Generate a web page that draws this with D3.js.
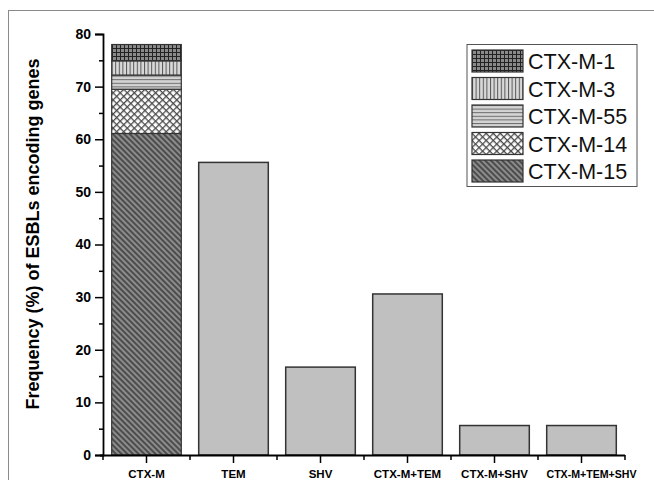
<!DOCTYPE html>
<html><head><meta charset="utf-8">
<script src="https://cdn.jsdelivr.net/npm/d3@7/dist/d3.min.js"></script>
<style>body{margin:0;background:#fff}svg{display:block}</style>
</head><body>
<script>
const categories = ["CTX-M","TEM","SHV","CTX-M+TEM","CTX-M+SHV","CTX-M+TEM+SHV"];
const totals = [78.0, 55.6, 16.7, 30.6, 5.6, 5.6];
const subtypes = ["CTX-M-15","CTX-M-14","CTX-M-55","CTX-M-3","CTX-M-1"];
const subtypeValues = [61.1, 8.4, 2.7, 2.7, 3.1];
const yTicks = [0,10,20,30,40,50,60,70,80];
const yMinorTicks = [5,15,25,35,45,55,65,75];
const legendOrder = ["CTX-M-1","CTX-M-3","CTX-M-55","CTX-M-14","CTX-M-15"];

const W=654,H=480;
const FONT="Liberation Sans, Arial, sans-serif";
const svg=d3.select("body").append("svg").attr("width",W).attr("height",H);
const defs=svg.append("defs");
function pat(id,size,bg,rot){
  const p=defs.append("pattern").attr("id",id).attr("patternUnits","userSpaceOnUse")
    .attr("width",size).attr("height",size);
  if(rot) p.attr("patternTransform","rotate("+rot+")");
  p.append("rect").attr("width",size).attr("height",size).attr("fill",bg);
  return p;
}
let p=pat("p15",4,"#8c8c8c",-45);
p.append("line").attr("x1",1).attr("y1",0).attr("x2",1).attr("y2",4).attr("stroke","#2a2a2a").attr("stroke-width",1.3);
p=pat("p14",5,"#ffffff",45);
p.append("line").attr("x1",0).attr("y1",0.5).attr("x2",5).attr("y2",0.5).attr("stroke","#4a4a4a").attr("stroke-width",1.6);
p.append("line").attr("x1",0.5).attr("y1",0).attr("x2",0.5).attr("y2",5).attr("stroke","#4a4a4a").attr("stroke-width",1.6);
p=pat("p55",3.6,"#d4d4d4",0);
p.append("line").attr("x1",0).attr("y1",0.5).attr("x2",3.6).attr("y2",0.5).attr("stroke","#6a6a6a").attr("stroke-width",1);
p=pat("p3",3.6,"#d8d8d8",0);
p.append("line").attr("x1",0.5).attr("y1",0).attr("x2",0.5).attr("y2",3.6).attr("stroke","#555").attr("stroke-width",1);
p=pat("p1",4,"#8a8a8a",0);
p.append("line").attr("x1",0).attr("y1",0.5).attr("x2",4).attr("y2",0.5).attr("stroke","#222").attr("stroke-width",1);
p.append("line").attr("x1",0.5).attr("y1",0).attr("x2",0.5).attr("y2",4).attr("stroke","#222").attr("stroke-width",1);
const fillOf={"CTX-M-15":"url(#p15)","CTX-M-14":"url(#p14)","CTX-M-55":"url(#p55)","CTX-M-3":"url(#p3)","CTX-M-1":"url(#p1)"};

svg.append("rect").attr("x",8.5).attr("y",10.5).attr("width",700).attr("height",500)
  .attr("fill","none").attr("stroke","#8a8a8a").attr("stroke-width",1);

const x=d3.scaleBand().domain(categories).range([103,625]).paddingInner(0.2).paddingOuter(0.1);
const y=d3.scaleLinear().domain([0,80]).range([455,34]);

svg.append("g").selectAll("rect").data(categories.slice(1)).join("rect")
  .attr("x",d=>x(d)).attr("width",x.bandwidth())
  .attr("y",d=>y(totals[categories.indexOf(d)]))
  .attr("height",d=>y(0)-y(totals[categories.indexOf(d)]))
  .attr("fill","#c0c0c0").attr("stroke","#333").attr("stroke-width",1.5);

let cum=0;
const segs=subtypes.map((s,i)=>{const o={name:s,y0:cum,y1:cum+subtypeValues[i]};cum+=subtypeValues[i];return o;});
svg.append("g").selectAll("rect").data(segs).join("rect")
  .attr("x",x(categories[0])).attr("width",x.bandwidth())
  .attr("y",d=>y(d.y1)).attr("height",d=>y(d.y0)-y(d.y1))
  .attr("fill",d=>fillOf[d.name]).attr("stroke","#333").attr("stroke-width",1.2);

const ya=svg.append("g").attr("transform","translate(103,0)")
  .call(d3.axisLeft(y).tickValues(yTicks).tickSize(8).tickPadding(4).tickFormat(d3.format("d")));
svg.append("g").attr("transform","translate(103,0)")
  .call(d3.axisLeft(y).tickValues(yMinorTicks).tickSize(4).tickFormat(""))
  .select(".domain").remove();
ya.selectAll("text").attr("font-family",FONT).attr("font-weight","bold").attr("font-size",14).attr("fill","#000");

const xa=svg.append("g").attr("transform","translate(0,455)")
  .call(d3.axisBottom(x).tickSize(8).tickSizeOuter(0).tickPadding(8));
xa.select(".domain").attr("d","M100,0.5H625");
xa.selectAll("text").attr("font-family",FONT).attr("font-weight","bold").attr("font-size",11.5).attr("fill","#000").attr("dy","0.62em");
xa.selectAll("text").filter(d=>d===categories[categories.length-1])
  .attr("dx",10).attr("textLength",90).attr("lengthAdjust","spacingAndGlyphs");
const bounds=categories.map(c=>x(c)+x.bandwidth()/2-x.step()/2).concat([x(categories[categories.length-1])+x.bandwidth()/2+x.step()/2]);
svg.append("g").selectAll("line").data(bounds).join("line")
  .attr("x1",d=>d).attr("x2",d=>d).attr("y1",455).attr("y2",460)
  .attr("stroke","#000").attr("stroke-width",1.5);
svg.selectAll(".domain").attr("stroke-width",1.8);
svg.selectAll(".tick line").attr("stroke-width",1.5);

svg.append("text").attr("transform","translate(39,234) rotate(-90)")
  .attr("text-anchor","middle").attr("font-family",FONT)
  .attr("font-weight","bold").attr("font-size",18).text("Frequency (%) of ESBLs encoding genes");

const lg=svg.append("g");
lg.append("rect").attr("x",467).attr("y",44.5).attr("width",170).attr("height",142)
  .attr("fill","#fff").attr("stroke","#555").attr("stroke-width",1);
const row=lg.selectAll("g").data(legendOrder).join("g")
  .attr("transform",(d,i)=>"translate(472,"+(50+i*27.5)+")");
row.append("rect").attr("width",51).attr("height",22).attr("fill",d=>fillOf[d]).attr("stroke","#333").attr("stroke-width",1.2);
row.append("text").attr("x",56).attr("y",19).attr("font-family",FONT)
  .attr("font-size",21.5).attr("fill","#111").text(d=>d);
</script>
</body></html>
